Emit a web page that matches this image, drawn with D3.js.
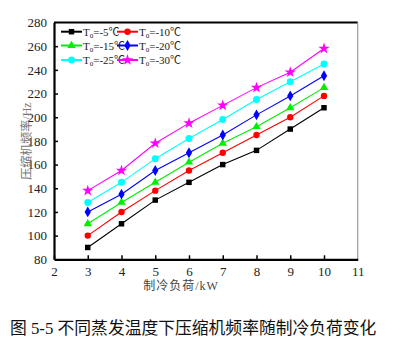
<!DOCTYPE html>
<html><head><meta charset="utf-8">
<script src="https://cdn.jsdelivr.net/npm/d3@7"></script>
<style>body{margin:0;background:#fff}svg{display:block}</style>
</head><body>
<svg id="c" width="393" height="355"></svg>
<script>
const loads = [3,4,5,6,7,8,9,10];
const seriesNames = ["-5","-10","-15","-20","-25","-30"];
const s5  = [90,110,130,145,160,172,190,208];
const s10 = [100,120,138,155,170,185,200,218];
const s15 = [110,128,145,162,178,192,208,225];
const s20 = [120,135,155,170,185,202,218,235];
const s25 = [128,145,165,182,198,215,230,245];
const s30 = [138,155,178,195,210,225,238,258];
const xTicks = [2,3,4,5,6,7,8,9,10,11];
const yTicks = [80,100,120,140,160,180,200,220,240,260,280];
const colors = ["#000000","#ff0000","#00ee00","#0000ff","#00ffff","#ff00ff"];
const symbols = [d3.symbolSquare,d3.symbolCircle,d3.symbolTriangle,d3.symbolDiamond,d3.symbolCircle,d3.symbolStar];
const symSizes = [30,32,30,34,38,40];
const allSeries = [s5,s10,s15,s20,s25,s30];

const svg = d3.select("#c");
const L=54, R=357.75, T=22.5, B=259.3;
const x = d3.scaleLinear().domain([2,11]).range([L,R]);
const y = d3.scaleLinear().domain([80,280]).range([B,T]);
const serif = "'Liberation Serif','Noto Sans CJK SC',serif";

// frame top and right
svg.append("line").attr("x1",L).attr("x2",R).attr("y1",T).attr("y2",T).attr("stroke","#000").attr("stroke-width",2);
svg.append("line").attr("x1",R).attr("x2",R).attr("y1",T).attr("y2",B).attr("stroke","#888").attr("stroke-width",1);

// axes
const xa = svg.append("g").attr("transform",`translate(0,${B})`)
  .call(d3.axisBottom(x).tickValues(xTicks).tickSizeInner(-4).tickSizeOuter(0).tickPadding(7));
const ya = svg.append("g").attr("transform",`translate(${L},0)`)
  .call(d3.axisLeft(y).tickValues(yTicks).tickSizeInner(-4).tickSizeOuter(0).tickPadding(7));
[xa,ya].forEach(a=>{
  a.select(".domain").attr("stroke","#000").attr("stroke-width",2.2);
  a.selectAll(".tick line").attr("stroke","#000").attr("stroke-width",1.5);
  a.selectAll("text").attr("font-family",serif).attr("font-size",13).attr("fill","#222");
});
xa.selectAll(".tick").filter(d=>d===11).select("line").remove();
ya.selectAll(".tick").filter(d=>d===80||d===280).select("line").remove();

// lines and markers
const line = d3.line().x((d,i)=>x(loads[i])).y(d=>y(d));
allSeries.forEach((s,k)=>{
  svg.append("path").datum(s).attr("d",line).attr("fill","none").attr("stroke",colors[k]).attr("stroke-width",1.1);
  svg.append("g").selectAll("path").data(s).join("path")
    .attr("transform",(d,i)=>`translate(${x(loads[i])},${y(d)})`)
    .attr("d",d3.symbol().type(symbols[k]).size(symSizes[k]))
    .attr("fill",colors[k]);
});

// legend
const legX=[61,117], legY=[31.7,45.5,60];
seriesNames.forEach((n,k)=>{
  const cx=legX[k%2], cy=legY[Math.floor(k/2)];
  const g = svg.append("g");
  g.append("line").attr("x1",cx).attr("x2",cx+21).attr("y1",cy).attr("y2",cy).attr("stroke",colors[k]).attr("stroke-width",2);
  g.append("path").attr("transform",`translate(${cx+10.5},${cy})`).attr("d",d3.symbol().type(symbols[k]).size(symSizes[k])).attr("fill",colors[k]);
  const t = g.append("text").attr("x",cx+22).attr("y",cy+4).attr("font-family",serif).attr("font-size",11).attr("fill","#222");
  t.append("tspan").text("T");
  t.append("tspan").attr("font-size",7).attr("dy",2).text("0");
  t.append("tspan").attr("dy",-2).text("="+n+"℃");
});

// axis titles
svg.append("text").attr("x",181).attr("y",290).attr("text-anchor","middle")
  .attr("font-family",serif).attr("font-size",12).attr("fill","#444").attr("letter-spacing",1).text("制冷负荷/kW");
svg.append("text").attr("transform","translate(31,141) rotate(-90)").attr("text-anchor","middle")
  .attr("font-family",serif).attr("font-size",12).attr("fill","#777").text("压缩机频率/Hz");

// caption
svg.append("text").attr("x",10).attr("y",334).attr("font-family","'Liberation Serif','Noto Sans CJK SC',sans-serif")
  .attr("font-size",16.8).attr("fill","#111")
  .text("图 5-5 不同蒸发温度下压缩机频率随制冷负荷变化");
</script>
</body></html>
